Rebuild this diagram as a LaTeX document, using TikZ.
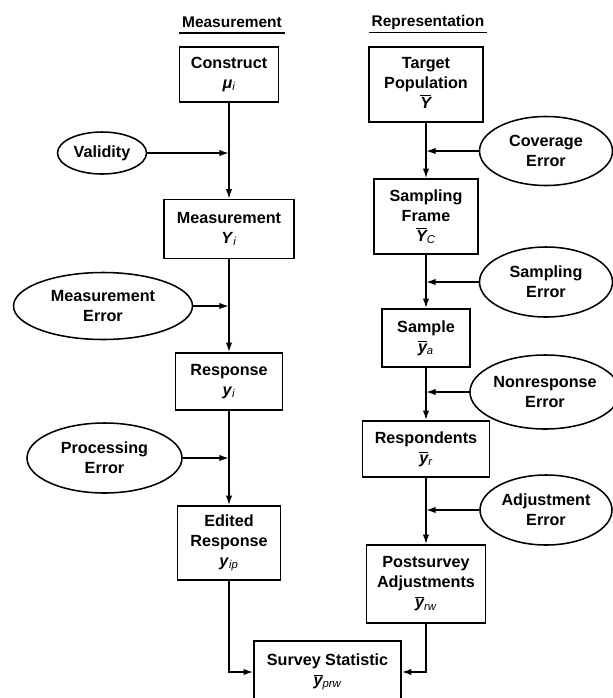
\documentclass[tikz,border=0pt]{standalone}
\usepackage{fontspec}
\setmainfont{Liberation Sans}
\usetikzlibrary{shapes.geometric,arrows.meta}
\tikzset{
  >={Latex[length=2.4mm,width=1.6mm]},
  box/.style={draw,rectangle,align=center,inner sep=1pt},
  err/.style={draw,ellipse,align=center,inner sep=1pt},
  head/.style={inner xsep=1.5pt,inner ysep=3.5pt,text depth=0pt,
    font=\fontsize{11}{13}\selectfont\bfseries}
}
\newcommand{\barvar}[2]{$\overline{\mbox{\itshape #1}}$\textsubscript{\mdseries\itshape #2}}
\newcommand{\plainvar}[2]{\textit{#1}\textsubscript{\mdseries\itshape #2}}

\begin{document}
\begin{tikzpicture}[x=.25mm,y=-.25mm,line width=1.1pt,
    font=\fontsize{11.5}{14.2}\selectfont\bfseries]
  \useasboundingbox (0,0) rectangle (613,698);
  % column headings
  \node[head] (mhead) at (232,22) {Measurement};
  \draw (mhead.south west)--(mhead.south east);
  \node[head] (rhead) at (428,21) {Representation};
  \draw (rhead.south west)--(rhead.south east);
  % measurement side
  \node[box,minimum width=24.75mm,minimum height=13.75mm] (construct) at (229,74.5)
    {Construct\\\plainvar{μ}{i}};
  \node[box,minimum width=32.5mm,minimum height=14.75mm] (meas) at (229,229)
    {Measurement\\\plainvar{Y}{i}};
  \node[box,minimum width=26.75mm,minimum height=14.25mm] (resp) at (229,381.5)
    {Response\\\plainvar{y}{i}};
  \node[box,minimum width=25.75mm,minimum height=18.5mm] (edited) at (229,543)
    {Edited\\Response\\\plainvar{y}{ip}};
  \node[err,minimum width=22.25mm,minimum height=10.5mm] (valid) at (102,153) {Validity};
  \node[err,minimum width=44.75mm,minimum height=16.75mm] (merr) at (103,306)
    {Measurement\\Error};
  \node[err,minimum width=38.75mm,minimum height=17.5mm] (perr) at (104.5,458)
    {Processing\\Error};
  % representation side
  \node[box,minimum width=28.5mm,minimum height=18.75mm] (target) at (426,84.5)
    {Target\\Population\\\barvar{Y}{}};
  \node[box,minimum width=26mm,minimum height=18.75mm] (frame) at (426,216.5)
    {Sampling\\Frame\\\barvar{Y}{C}};
  \node[box,minimum width=22mm,minimum height=14.5mm] (sample) at (426,338)
    {Sample\\\barvar{y}{a}};
  \node[box,minimum width=31.75mm,minimum height=14mm] (resps) at (426,449)
    {Respondents\\\barvar{y}{r}};
  \node[box,minimum width=29.75mm,minimum height=19.5mm] (post) at (426,584)
    {Postsurvey\\Adjustments\\\barvar{y}{rw}};
  \node[err,minimum width=33.25mm,minimum height=17.25mm] (coverr) at (546,151)
    {Coverage\\Error};
  \node[err,minimum width=33.25mm,minimum height=17.5mm] (serr) at (546,282)
    {Sampling\\Error};
  \node[err,minimum width=37mm,minimum height=18.5mm] (nerr) at (545,392)
    {Nonresponse\\Error};
  \node[err,minimum width=33mm,minimum height=17.5mm] (aerr) at (546,510)
    {Adjustment\\Error};
  % final statistic
  \node[box,minimum width=36.75mm,minimum height=15.5mm] (stat) at (327.5,672)
    {Survey Statistic\\\barvar{y}{prw}};

  \draw[->] (construct)--(meas);
  \draw[->] (meas)--(resp);
  \draw[->] (resp)--(edited);
  \draw[->] (valid)--(valid-|construct);
  \draw[->] (merr)--(merr-|meas);
  \draw[->] (perr)--(perr-|resp);
  \draw[->] (target)--(frame);
  \draw[->] (frame)--(sample);
  \draw[->] (sample)--(resps);
  \draw[->] (resps)--(post);
  \draw[->] (coverr)--(coverr-|target);
  \draw[->] (serr)--(serr-|frame);
  \draw[->] (nerr)--(nerr-|sample);
  \draw[->] (aerr)--(aerr-|resps);
  \draw[->] (edited)|-(stat);
  \draw[->] (post)|-(stat);
\end{tikzpicture}
\end{document}
